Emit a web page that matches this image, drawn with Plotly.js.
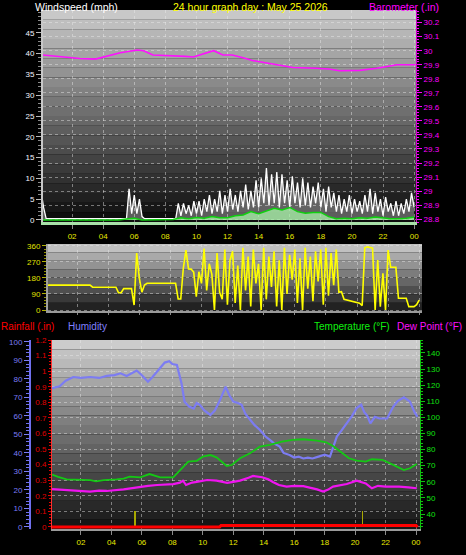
<!DOCTYPE html>
<html><head><meta charset="utf-8">
<script src="https://cdn.plot.ly/plotly-3.0.1.min.js"></script>
<style>html,body{margin:0;padding:0;background:#000;overflow:hidden}#chart{width:466px;height:555px}</style>
</head><body><div id="chart"></div>
<script>
// ---------- data ----------
const hourTicks = [2,4,6,8,10,12,14,16,18,20,22,24];
const hourLabels = ['02','04','06','08','10','12','14','16','18','20','22','00'];

// wind gust, one value every 10 minutes from 00:00 to 24:00 (mph)
const windGust = [
 7,3,0.3,0.3,0.3,0.3,
 0.3,0.3,0.3,0.3,0.3,0.3,
 0.3,0.3,0.3,0.3,0.3,0.3,
 0.3,0.3,0.3,0.3,0.3,0.3,
 0.3,0.3,0.3,0.3,0.3,0.3,
 0.3,0.3,0.3,0.3,7.5,1.5,
 6,1.5,5,0.8,0.3,0.3,
 0.3,0.3,0.3,0.3,0.3,0.3,
 0.3,0.3,0.3,0.3,0.3,4,
 1,4,1.5,3.5,1,4.5,
 1.5,4.5,1,5,2,6,
 1.5,5,2,7,1.5,6,
 2,7.5,2.5,6,2,7,
 3,8.5,2.5,7,3,9.5,
 3,10,4,12.5,3.5,11,
 4,11.5,3,11,4,9.5,
 3,10.5,4,9,3,10,
 3.5,9,3,8,4,9,
 3,7.5,2,8,3,6.5,
 2,6,1.5,5,2,6,
 1.5,5,2,4.5,1.5,6,
 2,7.5,1.5,6.5,2,5,
 1,5.5,2,4,1,4.5,
 1,4,1.5,5,2,6.5,
 3];

// average wind speed, one value every 30 minutes (mph)
const windAvg = [0,0, 0,0, 0,0, 0,0, 0,0, 0,0.2, 0.4,0, 0,0, 0,0.1, 0.5,0.3,
 0.6,0.4, 0.8,0.5, 0.5,1.0, 1.2,2.0, 1.5,2.2, 2.8,2.4, 3.0,2.0, 1.6,1.8, 1.8,0.8,
 0.3,0.4, 0.3,0.5, 0.4,0.7, 0.5,0.3, 0.3,0.4, 0.7];

// barometer (inHg)
const baroHours = [0.13,1.0,2.5,3.5,4.2,5.1,6.2,6.6,7.2,8.7,9.3,9.8,10.5,11.1,11.7,12.3,13.0,13.6,14.9,16.2,17.7,18.5,19.2,20.5,21.6,22.9,24.1];
const baroInHg = [29.97,29.96,29.945,29.94,29.96,29.985,30.005,30.0,29.97,29.965,29.96,29.955,29.98,30.0,29.97,29.97,29.95,29.93,29.905,29.88,29.875,29.87,29.857,29.86,29.875,29.9,29.9];

// wind direction, one value every 10 minutes (degrees)
const windDir = [
 135,140,140,140,140,140,
 140,140,140,140,140,140,
 140,140,140,140,140,140,
 128,128,128,128,128,128,
 128,128,128,128,97,97,
 120,120,120,120,28,320,
 180,100,140,150,150,150,
 150,150,150,150,150,150,
 150,150,150,62,62,236,
 337,231,230,213,75,215,
 150,345,110,260,200,0,
 320,100,60,340,30,280,
 330,40,250,0,350,110,
 300,20,340,150,260,0,
 350,60,300,130,330,20,
 280,0,350,90,310,170,
 340,40,290,0,350,120,
 300,50,330,160,340,30,
 350,80,320,140,340,100,
 103,60,56,50,47,43,
 41,38,25,350,355,352,
 348,0,281,19,206,0,
 337,240,240,240,66,66,
 66,66,19,19,19,30,
 56];
const compassVals = [0,90,180,270,360];
const compassLabels = ['N','E','S','W','N'];

// humidity (%)
const humHours = [0.1,0.6,1.0,1.5,2.0,2.6,3.2,3.7,4.2,4.6,5.0,5.3,5.66,6.0,6.4,6.7,7.0,7.5,7.8,8.0,8.3,8.6,8.8,9.1,9.4,9.6,9.8,10.1,10.5,10.8,11.1,11.5,11.75,12.0,12.3,12.55,12.8,13.1,13.4,13.75,14.1,14.4,14.7,15.05,15.3,15.7,16.0,16.3,16.6,16.9,17.2,17.6,18.0,18.35,18.6,18.8,19.1,19.45,19.8,20.1,20.4,20.6,20.8,21.0,21.3,21.6,22.1,22.5,22.8,23.2,23.6,23.9,24.1];
const humidity = [75,76,79,81,80.5,81,80.5,81.6,82,83,81.6,83,84.5,82,78.5,81,84,88.8,89.5,88,87.5,77.7,67.7,65,64,67,66,63,60.5,63,68,75.8,71,67.7,67,66,61,57.8,55,52.4,49,47,45,43.4,40,38.9,37.5,38,37,37.5,37,38,39,38,44,48.8,52,56,60,64.2,66,62,60,56,59.5,58.6,58.6,64.9,68,70,67.7,62,59.5];

// temperature (F)
const tempHours = [0.1,0.5,1.06,2.0,2.6,3.0,3.5,4.35,4.8,5.2,5.9,6.5,6.9,7.2,8.06,8.5,9.05,9.6,10.0,10.5,10.9,11.3,11.57,11.9,12.45,13.1,13.75,14.4,14.6,15.2,15.9,16.6,17.5,18.1,18.55,19.0,19.6,20.1,20.7,21.1,21.8,22.4,23.2,23.6,24.05];
const temperature = [64.5,63,61.5,61.2,61,60.3,61,61.5,62,63.2,62.8,64.8,63.5,62.8,62.8,67.3,72.5,73,75.6,76.6,75.2,72,69.8,70.4,74.6,77.7,81.8,82.9,83.5,85,86,86.4,85.5,84.5,82.2,78.7,74.6,73.1,72.5,74,73.6,71,67.3,68.4,71];

// dew point (F)
const dewHours = [0.1,0.8,1.5,2.6,3.2,3.7,4.8,5.9,6.4,7.0,8.06,8.5,8.7,8.9,9.3,9.6,10.3,10.9,11.6,12.0,12.45,13.0,13.3,13.9,14.3,14.6,15.0,15.5,16.0,16.6,17.0,17.5,17.9,18.2,18.55,19.0,19.45,20.1,20.7,21.1,21.5,22.0,22.9,23.5,24.05];
const dewPoint = [55.5,55,54.5,53.9,54.5,54.3,55.3,57,57.5,58,58.6,59.5,60.7,58,59.5,59.9,61.1,60.7,59.4,60,60.7,62.5,63.6,62.8,61.5,59.9,58,57,57.5,57.3,56.5,55.3,53.9,55,57,58,58.6,60.7,59,56,57.5,57,57,56.5,56];

// rainfall (in)
const rainHours = [0.1,11.1,11.2,24.0,24.1];
const rainfall = [0,0,0.01,0.01,0];

// olive event markers on rain axis
const markHours = [5.55,20.5];
const markValues = [0.1,0.1];

// ---------- helpers ----------
const gustHours = windGust.map((_, i) => i / 6);
const avgHours = windAvg.map((_, i) => i / 2);
const dirHours = windDir.map((_, i) => i / 6);

const FONT = 'Liberation Sans, Arial, sans-serif';
const W = 466, H = 555;
const px = v => v / W;
const py = v => 1 - v / H;

function bands(xr, yr, top, bot, n) {
  const out = [];
  for (let i = 0; i < n; i++) {
    const t = i / (n - 1);
    const c = Math.round(top + (bot - top) * t);
    out.push({type:'rect', xref:xr + ' domain', yref:yr + ' domain', x0:0, x1:1,
      y1:1 - i / n, y0:1 - (i + 1) / n, fillcolor:`rgb(${c},${c},${c})`,
      line:{width:0}, layer:'below'});
  }
  return out;
}

const gridC = 'rgba(235,235,235,0.45)';
const xBase = {tickmode:'array', tickvals:hourTicks, ticktext:hourLabels,
  tickfont:{family:FONT, size:8, color:'#e8e800'}, ticks:'outside', ticklen:4, tickcolor:'#8a8a8a',
  showgrid:true, gridcolor:gridC, griddash:'dot', gridwidth:1, zeroline:false, fixedrange:true};

const traces = [
  {x:gustHours, y:windGust, xaxis:'x', yaxis:'y', type:'scatter', mode:'lines',
   line:{color:'#ffffff', width:1.3}, fill:'tozeroy', fillcolor:'rgba(255,255,255,0.33)'},
  {x:avgHours, y:windAvg, xaxis:'x', yaxis:'y', type:'scatter', mode:'lines',
   line:{color:'#10d010', width:1.5}, fill:'tozeroy', fillcolor:'rgba(170,245,170,0.75)'},
  {x:baroHours, y:baroInHg, xaxis:'x', yaxis:'y2', type:'scatter', mode:'lines',
   line:{color:'#ff10ff', width:1.6}},
  {x:dirHours, y:windDir, xaxis:'x2', yaxis:'y3', type:'scatter', mode:'lines',
   line:{color:'#ffff00', width:1.6}},
  {x:markHours, y:markValues, xaxis:'x3', yaxis:'y5', type:'bar', width:0.1,
   marker:{color:'#a8a800', line:{width:0}}},
  {x:rainHours, y:rainfall, xaxis:'x3', yaxis:'y5', type:'scatter', mode:'lines',
   line:{color:'#ff0000', width:3}},
  {x:humHours, y:humidity, xaxis:'x3', yaxis:'y6', type:'scatter', mode:'lines',
   line:{color:'#7c7cf2', width:2.2}},
  {x:tempHours, y:temperature, xaxis:'x3', yaxis:'y7', type:'scatter', mode:'lines',
   line:{color:'#14c814', width:1.8}},
  {x:dewHours, y:dewPoint, xaxis:'x3', yaxis:'y7', type:'scatter', mode:'lines',
   line:{color:'#f014f0', width:2.2}}
];

const layout = {
  width:W, height:H, margin:{l:0,r:0,t:0,b:0,pad:0},
  paper_bgcolor:'#000', plot_bgcolor:'#000', showlegend:false,
  font:{family:FONT, size:8, color:'#fff'},
  bargap:0,
  xaxis:Object.assign({}, xBase, {domain:[px(43), px(416)], range:[0.13, 24.12], anchor:'y',
    showline:true, linecolor:'#a8e0a8', linewidth:3}),
  yaxis:{domain:[py(222), py(10)], range:[-0.5, 50.5], anchor:'x',
    tickmode:'array', tickvals:[0,5,10,15,20,25,30,35,40,45],
    tickfont:{family:FONT, size:8, color:'#f0f4ff'}, ticks:'outside', ticklen:5, tickcolor:'#bbbbbb',
    showline:true, linecolor:'#c8c8c8', linewidth:2, showgrid:false, zeroline:false,
    minor:{dtick:1, tick0:0, ticks:'outside', ticklen:3, tickcolor:'#8a8a8a', showgrid:false}},
  yaxis2:{overlaying:'y', side:'right', anchor:'x', range:[28.78, 30.29],
    tickmode:'array',
    tickvals:[28.8,28.9,29.0,29.1,29.2,29.3,29.4,29.5,29.6,29.7,29.8,29.9,30.0,30.1,30.2],
    ticktext:['28.8','28.9','29','29.1','29.2','29.3','29.4','29.5','29.6','29.7','29.8','29.9','30','30.1','30.2'],
    tickfont:{family:FONT, size:8, color:'#ff00ff'}, ticks:'outside', ticklen:5, tickcolor:'#ff00ff',
    showline:true, linecolor:'#cc00cc', linewidth:1, showgrid:true, gridcolor:gridC, griddash:'dot',
    zeroline:false, minor:{dtick:0.02, tick0:28.8, ticks:'outside', ticklen:2, tickcolor:'#ff00ff', showgrid:false}},

  xaxis2:Object.assign({}, xBase, {domain:[px(48), px(422)], range:[0.13, 24.18], anchor:'y3',
    showticklabels:false, ticklen:2, showline:true, linecolor:'#9a9a9a', linewidth:2}),
  yaxis3:{domain:[py(311), py(244)], range:[-5.6, 371], anchor:'x2',
    tickmode:'array', tickvals:compassVals,
    tickfont:{family:FONT, size:8, color:'#e0e000'}, ticks:'outside', ticklen:4, tickcolor:'#b0b000',
    showline:true, linecolor:'#a0a0a0', linewidth:2, showgrid:true, gridcolor:gridC, griddash:'dot',
    zeroline:false, minor:{dtick:18, tick0:0, ticks:'outside', ticklen:2, tickcolor:'#909000', showgrid:false}},
  yaxis4:{overlaying:'y3', side:'right', anchor:'x2', range:[-5.6, 371],
    tickmode:'array', tickvals:compassVals, ticktext:compassLabels,
    tickfont:{family:FONT, size:11, color:'#ffff00'}, ticks:'outside', ticklen:12, tickcolor:'rgba(0,0,0,0)',
    showline:false, showgrid:false, zeroline:false},

  xaxis3:Object.assign({}, xBase, {domain:[px(52), px(420)], range:[0.1, 24.26], anchor:'y5',
    showline:true, linecolor:'#9a9a9a', linewidth:2}),
  yaxis5:{domain:[py(529), py(340)], range:[-0.013, 1.2], anchor:'x3',
    tickmode:'array', tickvals:[0,0.1,0.2,0.3,0.4,0.5,0.6,0.7,0.8,0.9,1.0,1.1,1.2],
    ticktext:['0','0.1','0.2','0.3','0.4','0.5','0.6','0.7','0.8','0.9','1','1.1','1.2'],
    tickfont:{family:FONT, size:8, color:'#e00000'}, ticks:'outside', ticklen:3, tickcolor:'#e00000',
    showline:true, linecolor:'#ff3030', linewidth:1, showgrid:true, gridcolor:gridC, griddash:'dot',
    zeroline:false, minor:{dtick:0.02, tick0:0, ticks:'outside', ticklen:2, tickcolor:'#e00000', showgrid:false}},
  yaxis6:{overlaying:'y5', side:'left', anchor:'free', position:px(30), range:[-1.1, 101],
    tickmode:'array', tickvals:[0,10,20,30,40,50,60,70,80,90,100],
    tickfont:{family:FONT, size:8, color:'#7c7cf6'}, ticks:'outside', ticklen:5, tickcolor:'#7c7cf6',
    showline:true, linecolor:'#7070ee', linewidth:2, showgrid:false, zeroline:false,
    minor:{dtick:2, tick0:0, ticks:'outside', ticklen:3, tickcolor:'#7070ee', showgrid:false}},
  yaxis7:{overlaying:'y5', side:'right', anchor:'x3', range:[30.7, 148],
    tickmode:'array', tickvals:[40,50,60,70,80,90,100,110,120,130,140],
    tickfont:{family:FONT, size:8, color:'#10e010'}, ticks:'outside', ticklen:4, tickcolor:'#10c010',
    showline:true, linecolor:'#10c010', linewidth:1, showgrid:false, zeroline:false,
    minor:{dtick:2, tick0:0, ticks:'outside', ticklen:2, tickcolor:'#10c010', showgrid:false}},

  shapes:[].concat(bands('x','y',200,14,22), bands('x2','y3',192,34,8), bands('x3','y5',204,22,20)),
  annotations:[
    {text:'Windspeed (mph)', x:px(34), y:1, xref:'paper', yref:'paper', xanchor:'left', yanchor:'top', showarrow:false, borderpad:0, font:{family:FONT, size:10.5, color:'#ffffff'}},
    {text:'24 hour graph day : May 25 2026', x:px(172), y:1, xref:'paper', yref:'paper', xanchor:'left', yanchor:'top', showarrow:false, borderpad:0, font:{family:FONT, size:10.5, color:'#ffff00'}},
    {text:'Barometer (.in)', x:px(440), y:1, xref:'paper', yref:'paper', xanchor:'right', yanchor:'top', showarrow:false, borderpad:0, font:{family:FONT, size:10.5, color:'#ff00ff'}},
    {text:'Rainfall (.in)', x:0, y:py(326), xref:'paper', yref:'paper', xanchor:'left', yanchor:'middle', showarrow:false, borderpad:0, font:{family:FONT, size:10, color:'#ff0000'}},
    {text:'Humidity', x:px(67), y:py(326), xref:'paper', yref:'paper', xanchor:'left', yanchor:'middle', showarrow:false, borderpad:0, font:{family:FONT, size:10, color:'#8080ff'}},
    {text:'Temperature (°F)', x:px(313), y:py(326), xref:'paper', yref:'paper', xanchor:'left', yanchor:'middle', showarrow:false, borderpad:0, font:{family:FONT, size:10, color:'#10f010'}},
    {text:'Dew Point (°F)', x:px(463), y:py(326), xref:'paper', yref:'paper', xanchor:'right', yanchor:'middle', showarrow:false, borderpad:0, font:{family:FONT, size:10, color:'#ff10ff'}}
  ]
};

Plotly.newPlot('chart', traces, layout, {staticPlot:true, displayModeBar:false});
</script>
</body></html>
